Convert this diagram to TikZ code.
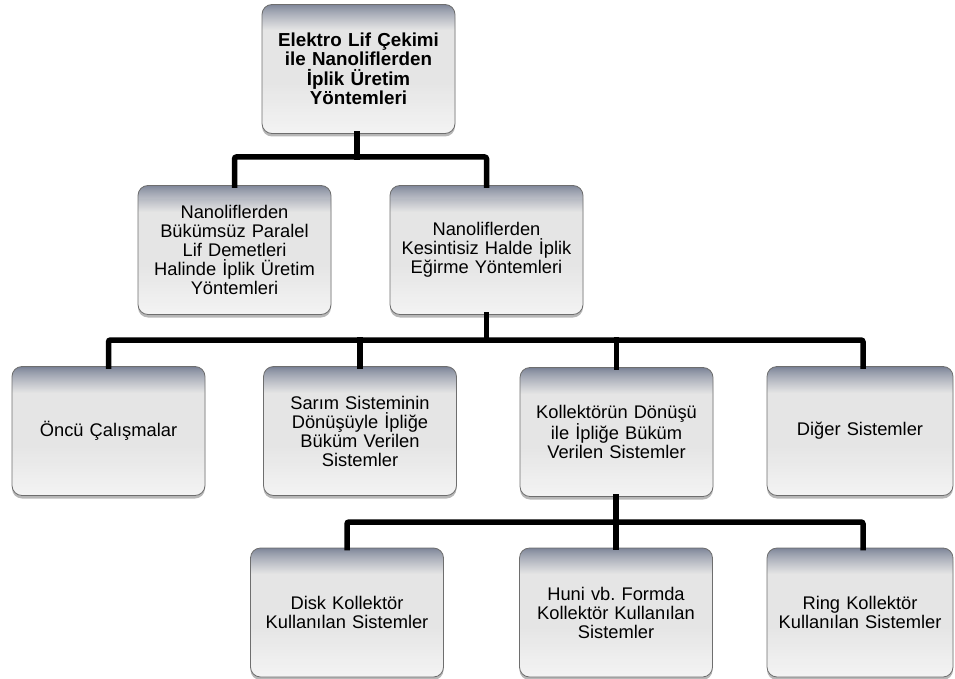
\documentclass[tikz,border=0pt]{standalone}
\usepackage{fontspec}
\setmainfont{Liberation Sans}
\usetikzlibrary{shadows}
\definecolor{boxtop}{HTML}{7A8296}
\definecolor{boxbody}{HTML}{E5E5E5}
\definecolor{boxbot}{HTML}{F3F3F3}
\definecolor{boxline}{HTML}{6E6E6E}
\tikzset{
  orgbox/.style={draw=boxline, line width=0.8pt, rounded corners=10pt,
    fill=boxbody, minimum width=193pt, minimum height=129pt,
    text width=178pt, align=center, inner sep=0pt,
    font=\fontsize{18.3}{19}\selectfont,
    path picture={
      \foreach \i in {0,...,26}{
        \pgfmathsetmacro\p{min(100,100*(\i/26)^0.8)}
        \pgfmathsetmacro\j{\i+1.3}
        \fill[sharp corners, boxbody!\p!boxtop]
          ([yshift=-\i pt]path picture bounding box.north west) rectangle
          ([yshift=-\j pt]path picture bounding box.north east);
      }
      \foreach \i in {0,...,16}{
        \pgfmathsetmacro\p{6.25*\i}
        \pgfmathsetmacro\j{\i*3+3.3}
        \pgfmathsetmacro\k{\i*3}
        \fill[sharp corners, boxbody!\p!boxbot]
          ([yshift=\j pt]path picture bounding box.south west) rectangle
          ([yshift=\k pt]path picture bounding box.south east);
      }
    },
    drop shadow={shadow xshift=0pt, shadow yshift=-3pt, opacity=0.4, fill=black!70}},
  conn/.style={line width=5.5pt, black, rounded corners=2pt, line cap=rect}
}
\begin{document}
\frenchspacing
\begin{tikzpicture}[x=1pt,y=-1pt]
\useasboundingbox (0,0) rectangle (955,679);
% level 1
\node[orgbox, font=\bfseries\fontsize{18.8}{19.5}\selectfont, text width=170pt] (root) at (358.5,69) {Elektro Lif Çekimi ile Nanoliflerden İplik Üretim Yöntemleri};
% level 2
\node[orgbox] (a) at (234.5,250) {Nanoliflerden\\Bükümsüz Paralel\\Lif Demetleri\\Halinde İplik Üretim\\Yöntemleri};
\node[orgbox] (b) at (486.5,250) {Nanoliflerden\\Kesintisiz Halde İplik\\Eğirme Yöntemleri};
% level 3
\node[orgbox] (c1) at (108.5,431) {Öncü Çalışmalar};
\node[orgbox] (c2) at (360,431) {Sarım Sisteminin\\Dönüşüyle İpliğe\\Büküm Verilen\\Sistemler};
\node[orgbox] (c3) at (616.5,432) {Kollektörün Dönüşü\\ile İpliğe Büküm\\Verilen Sistemler};
\node[orgbox, minimum width=186pt] (c4) at (860,431) {Diğer Sistemler};
% level 4
\node[orgbox] (d1) at (347,612.5) {Disk Kollektör\\Kullanılan Sistemler};
\node[orgbox] (d2) at (616,612.5) {Huni vb. Formda\\Kollektör Kullanılan\\Sistemler};
\node[orgbox, minimum width=186pt] (d3) at (860,612.5) {Ring Kollektör\\Kullanılan Sistemler};
% hubs
\coordinate (h1) at (357,157);
\coordinate (h2) at (486.5,340);
\coordinate (h3) at (616,522);
% connectors level 1 -> 2
\draw[conn] (root.south -| h1) -- (h1);
\draw[conn] (a.north) |- (h1) -| (b.north);
% level 2 -> 3
\draw[conn] (b.south) -- (h2);
\draw[conn] (c1.north) |- (h2) -| (c4.north -| 863,0);
\draw[conn] (c2.north) -- (c2.north |- h2);
\draw[conn] (c3.north) -- (c3.north |- h2);
% level 3 -> 4
\draw[conn] (c3.south -| h3) -- (h3);
\draw[conn] (d1.north) |- (h3) -| (d3.north -| 863,0);
\draw[conn] (d2.north -| h3) -- (h3);
\end{tikzpicture}
\end{document}
